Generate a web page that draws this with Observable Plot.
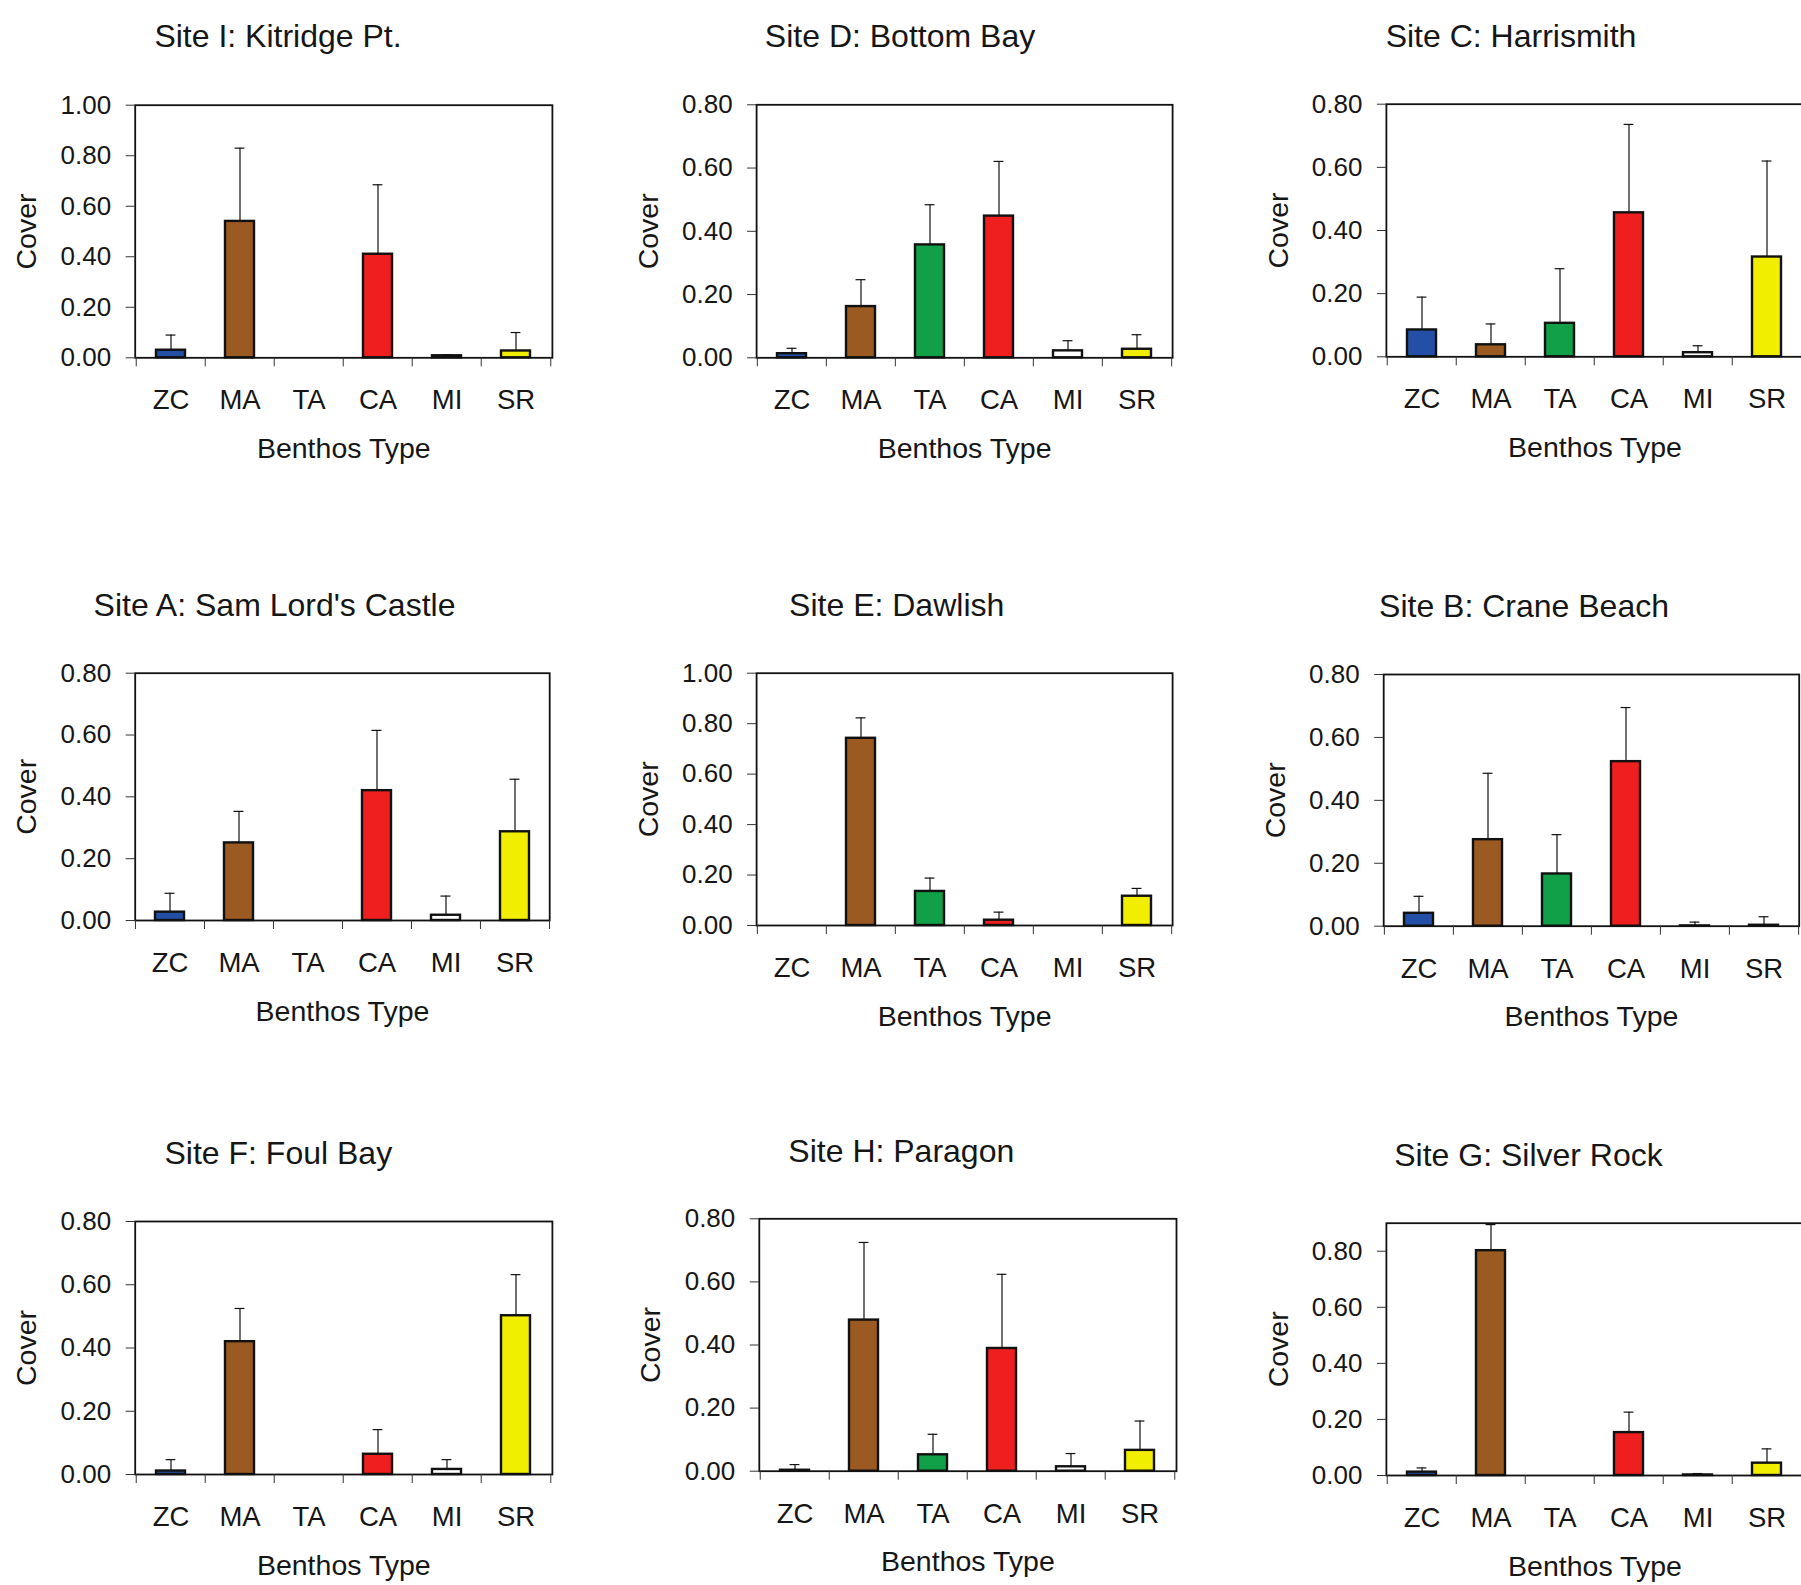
<!DOCTYPE html>
<html>
<head>
<meta charset="utf-8">
<script src="https://cdn.jsdelivr.net/npm/d3@7"></script>
<script src="https://cdn.jsdelivr.net/npm/@observablehq/plot@0.6"></script>
<style>
html, body { margin: 0; padding: 0; background: #fff; overflow: hidden; }
#chart { position: relative; width: 1801px; height: 1585px; overflow: hidden; background: #fff; }
#chart svg { position: absolute; overflow: visible; }
</style>
</head>
<body>
<div id="chart"></div>
<script>
// ---------- data ----------
const categories = ["ZC", "MA", "TA", "CA", "MI", "SR"];
const categoryColors = ["#2350a6", "#9b5a22", "#11a047", "#f01f1f", "#ffffff", "#f2ee00"];
const xLabel = "Benthos Type";
const yLabel = "Cover";

const siteTitles = [
  "Site I: Kitridge Pt.", "Site D: Bottom Bay", "Site C: Harrismith",
  "Site A: Sam Lord's Castle", "Site E: Dawlish", "Site B: Crane Beach",
  "Site F: Foul Bay", "Site H: Paragon", "Site G: Silver Rock"
];

// mean cover per benthos type (ZC, MA, TA, CA, MI, SR)
const meanI = [0.030, 0.540, 0,     0.410, 0.008, 0.027];
const meanD = [0.013, 0.162, 0.357, 0.448, 0.022, 0.027];
const meanC = [0.085, 0.038, 0.106, 0.456, 0.013, 0.316];
const meanA = [0.027, 0.251, 0,     0.420, 0.017, 0.287];
const meanE = [0,     0.742, 0.135, 0.021, 0,     0.116];
const meanB = [0.041, 0.275, 0.166, 0.523, 0.001, 0.003];
const meanF = [0.011, 0.420, 0,     0.064, 0.016, 0.502];
const meanH = [0.003, 0.479, 0.052, 0.389, 0.014, 0.066];
const meanG = [0.012, 0.802, 0,     0.153, 0.002, 0.044];

// upper error (standard error) per benthos type
const errI = [0.060, 0.290, null,  0.275, 0.004, 0.073];
const errD = [0.017, 0.085, 0.127, 0.173, 0.032, 0.046];
const errC = [0.104, 0.066, 0.173, 0.280, 0.022, 0.304];
const errA = [0.061, 0.102, null,  0.195, 0.062, 0.170];
const errE = [null,  0.081, 0.053, 0.032, null,  0.031];
const errB = [0.054, 0.211, 0.125, 0.172, 0.012, 0.027];
const errF = [0.036, 0.105, null,  0.078, 0.031, 0.130];
const errH = [0.018, 0.246, 0.065, 0.235, 0.042, 0.093];
const errG = [0.015, 0.093, null,  0.073, 0.005, 0.051];

// y-axis extents and tick labels
const yMaxes = [1.0, 0.8, 0.8, 0.8, 1.0, 0.8, 0.8, 0.8, 0.9];
const yTicks08 = [0, 0.2, 0.4, 0.6, 0.8];
const yTicks10 = [0, 0.2, 0.4, 0.6, 0.8, 1.0];

const means = [meanI, meanD, meanC, meanA, meanE, meanB, meanF, meanH, meanG];
const errs  = [errI, errD, errC, errA, errE, errB, errF, errH, errG];

// ---------- layout (page pixels) ----------
const colX = [0, 600, 1200];
const colW = [600, 600, 620];
const rowY = [0, 560, 1110];
const rowH = [560, 550, 475];
// frame box [left, right, top, zero-line] and title [centerX, baseline]
const frames = [
  [134.7, 551.9, 104.7, 357.3], [756.1, 1172.1, 104.3, 357.3], [1385.9, 1803, 103.7, 356.3],
  [134.7, 549.2, 672.7, 920.0], [756.1, 1172.1, 672.7, 925.0], [1383.2, 1798.7, 674.0, 925.7],
  [134.7, 551.9, 1221.0, 1474.0], [758.8, 1176.0, 1218.3, 1470.7], [1385.9, 1803, 1222.7, 1475.0]
];
const titlePos = [
  [277.5, 46.7], [899.5, 46.7], [1510.5, 46.7],
  [274.0, 615.0], [896.2, 615.0], [1523.5, 616.7],
  [277.8, 1163.3], [900.8, 1161.7], [1528.0, 1165.0]
];

const FONT = '"Liberation Sans", Arial, Helvetica, sans-serif';
const INK = "#161616";
const chart = document.getElementById("chart");

const tickFont = 26, catFont = 27.5, labelFont = 28.5, titleFont = 32;

siteTitles.forEach((title, k) => {
  const col = k % 3, row = Math.floor(k / 3);
  const left = colX[col], top = rowY[row], width = colW[col], height = rowH[row];
  const [L, R, T, B] = frames[k];
  const frameW = R - L, frameH = B - T;
  const step = frameW / categories.length;
  const padInner = 0.58;
  const bw = step * (1 - padInner);
  const capInset = (bw - 10) / 2;

  const rows = categories.map((c, i) => ({cat: c, mean: means[k][i], err: errs[k][i]}));
  const bars = rows.filter(d => d.mean > 0);
  const withErr = rows.filter(d => d.err != null);
  const ticks = yMaxes[k] >= 1 ? yTicks10 : yTicks08;

  const svg = Plot.plot({
    width, height,
    marginLeft: L - left,
    marginRight: width - (R - left),
    marginTop: T - top,
    marginBottom: height - (B - top),
    x: {domain: categories, paddingInner: padInner, paddingOuter: padInner / 2},
    y: {domain: [0, yMaxes[k]]},
    color: {domain: categories, range: categoryColors},
    style: {fontFamily: FONT, color: INK, background: "transparent", overflow: "visible"},
    marks: [
      Plot.barY(bars, {x: "cat", y: "mean", fill: "cat", stroke: "#111", strokeWidth: 2.4}),
      Plot.ruleX(withErr, {x: "cat", y1: "mean", y2: d => d.mean + d.err, stroke: "#111", strokeWidth: 1.2}),
      Plot.tickY(withErr, {x: "cat", y: d => d.mean + d.err, insetLeft: capInset, insetRight: capInset, stroke: "#111", strokeWidth: 1.2}),
      Plot.frame({stroke: "#111", strokeWidth: 1.8}),
      Plot.axisY({ticks, tickFormat: d3.format(".2f"), tickSize: 9, tickPadding: 15, fontSize: tickFont, label: null, stroke: "#333"}),
      Plot.axisX({tickSize: 0, tickPadding: 51.5 - 0.71 * catFont, fontSize: catFont, label: null}),
      Plot.ruleX(categories, {x: d => d, dx: -step / 2, insetTop: frameH, insetBottom: -9, stroke: "#333", strokeWidth: 1}),
      Plot.ruleX(categories.slice(-1), {x: d => d, dx: step / 2, insetTop: frameH, insetBottom: -9, stroke: "#333", strokeWidth: 1}),
      Plot.text([title], {frameAnchor: "top", textAnchor: "middle", dx: titlePos[k][0] - (L + R) / 2, dy: titlePos[k][1] - T, lineAnchor: "bottom", fontSize: titleFont}),
      Plot.text([yLabel], {frameAnchor: "left", textAnchor: "middle", rotate: -90, dx: -108, fontSize: labelFont}),
      Plot.text([xLabel], {frameAnchor: "bottom", textAnchor: "middle", dy: 100, lineAnchor: "bottom", fontSize: labelFont})
    ]
  });
  svg.style.left = left + "px";
  svg.style.top = top + "px";
  chart.appendChild(svg);
});
</script>
</body>
</html>
